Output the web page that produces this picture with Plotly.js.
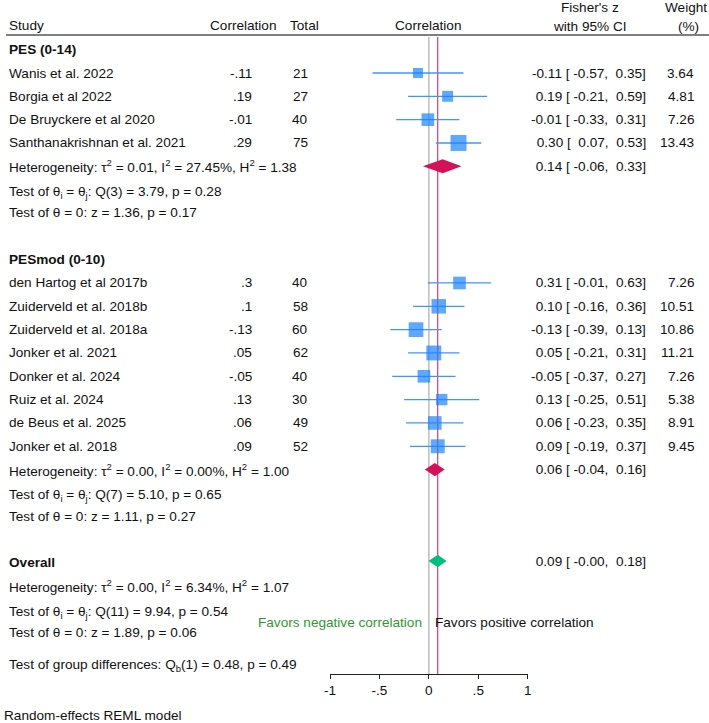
<!DOCTYPE html>
<html>
<head>
<meta charset="utf-8">
<script src="https://cdn.plot.ly/plotly-3.0.1.min.js"></script>
<style>html,body{margin:0;padding:0;background:#fff}</style>
</head>
<body>
<div id="chart" style="width:709px;height:723px"></div>
<script>
// ---- Subgroup 1: PES (0-14) ----
const pesStudies = ["Wanis et al. 2022", "Borgia et al 2022", "De Bruyckere et al 2020", "Santhanakrishnan et al. 2021"];
const pesCorr = ["-.11", ".19", "-.01", ".29"];
const pesTotal = [21, 27, 40, 75];
const pesZ = [-0.11, 0.19, -0.01, 0.30];
const pesLo = [-0.57, -0.21, -0.33, 0.07];
const pesHi = [0.35, 0.59, 0.31, 0.53];
const pesWeight = [3.64, 4.81, 7.26, 13.43];
const pesPooled = [0.14, -0.06, 0.33];          // estimate, lower, upper
const pesStats = [
  "Heterogeneity: τ<sup>2</sup> = 0.01, I<sup>2</sup> = 27.45%, H<sup>2</sup> = 1.38",
  "Test of θ<sub>i</sub> = θ<sub>j</sub>: Q(3) = 3.79, p = 0.28",
  "Test of θ = 0: z = 1.36, p = 0.17"
];

// ---- Subgroup 2: PESmod (0-10) ----
const modStudies = ["den Hartog et al 2017b", "Zuiderveld et al. 2018b", "Zuiderveld et al. 2018a", "Jonker et al. 2021",
                    "Donker et al. 2024", "Ruiz et al. 2024", "de Beus et al. 2025", "Jonker et al. 2018"];
const modCorr = [".3", ".1", "-.13", ".05", "-.05", ".13", ".06", ".09"];
const modTotal = [40, 58, 60, 62, 40, 30, 49, 52];
const modZ = [0.31, 0.10, -0.13, 0.05, -0.05, 0.13, 0.06, 0.09];
const modLo = [-0.01, -0.16, -0.39, -0.21, -0.37, -0.25, -0.23, -0.19];
const modHi = [0.63, 0.36, 0.13, 0.31, 0.27, 0.51, 0.35, 0.37];
const modWeight = [7.26, 10.51, 10.86, 11.21, 7.26, 5.38, 8.91, 9.45];
const modPooled = [0.06, -0.04, 0.16];
const modStats = [
  "Heterogeneity: τ<sup>2</sup> = 0.00, I<sup>2</sup> = 0.00%, H<sup>2</sup> = 1.00",
  "Test of θ<sub>i</sub> = θ<sub>j</sub>: Q(7) = 5.10, p = 0.65",
  "Test of θ = 0: z = 1.11, p = 0.27"
];

// ---- Overall ----
const overallPooled = [0.09, -0.003, 0.18];
const overallStats = [
  "Heterogeneity: τ<sup>2</sup> = 0.00, I<sup>2</sup> = 6.34%, H<sup>2</sup> = 1.07",
  "Test of θ<sub>i</sub> = θ<sub>j</sub>: Q(11) = 9.94, p = 0.54",
  "Test of θ = 0: z = 1.89, p = 0.06"
];
const groupTest = "Test of group differences: Q<sub>b</sub>(1) = 0.48, p = 0.49";

const tickVals = [-1, -0.5, 0, 0.5, 1];
const tickText = ["-1", "-.5", "0", ".5", "1"];

// ---- layout helpers ----
const W = 709, H = 723;
const FONT = "Liberation Sans, Arial, Helvetica, sans-serif";
const FS = 13.6;
const INK = "#111111";
const BLUE = "#1a85ff", CRIMSON = "#d41159", GREEN = "#00bf7f";
const px = v => v / W;
const py = v => 1 - v / H;
const ROW0 = 49.67, ROWH = 23.33;             // pixel position of row 0 and row height
const rowOfPixel = p => (p - ROW0) / ROWH;
const SUB_SHIFT = 0.13;                        // lines with subscripts sit a little lower

const fmt = v => { let s = v.toFixed(2); if (s === "0.00" && v < 0) s = "-0.00"; return s; };
const ciText = (e, l, u) => (fmt(e).padStart(5) + " [" + fmt(l).padStart(6) + "," + fmt(u).padStart(6) + "]").replace(/ /g, "\u00a0");

// row numbers of each block
const pesHeadRow = 0;
const pesRows = pesStudies.map((_, i) => 1 + i);
const pesSumRow = 5;
const modHeadRow = 9;
const modRows = modStudies.map((_, i) => 10 + i);
const modSumRow = 18;
const allHeadRow = 22;
const allSumRow = 22;

const ann = [];
function txt(text, x, y, xanchor, opts) {
  ann.push(Object.assign({
    text, x: px(x), xref: "paper", y, yref: "y", xanchor, yanchor: "middle",
    showarrow: false, borderpad: 0, font: { family: FONT, size: FS, color: INK }
  }, opts || {}));
}
function txtP(text, x, yPix, xanchor, opts) {
  txt(text, x, py(yPix), xanchor, Object.assign({ yref: "paper" }, opts || {}));
}

// column headers
txtP("Study", 8, 26, "left");
txtP("Correlation", 243.5, 26, "center");
txtP("Total", 304, 26, "center");
txtP("Correlation", 428.8, 26, "center");
txtP("Fisher's z", 590, 8, "center");
txtP("with 95% CI", 590, 27, "center");
txtP("Weight", 685.5, 8, "center");
txtP("(%)", 688, 27, "center");

function studyBlock(names, corr, tot, z, lo, hi, w, rows) {
  names.forEach((n, i) => {
    txt(n, 8, rows[i], "left");
    txt(corr[i], 253, rows[i], "right");
    txt(String(tot[i]), 309, rows[i], "right");
    txt(ciText(z[i], lo[i], hi[i]), 647, rows[i], "right");
    txt(w[i].toFixed(2), 695, rows[i], "right");
  });
}
function statBlock(stats, firstRow) {
  stats.forEach((s, i) => txt(s, 8, firstRow + i + (s.includes("<sub>") ? SUB_SHIFT : 0), "left"));
}

txt("<b>PES (0-14)</b>", 8, pesHeadRow, "left");
studyBlock(pesStudies, pesCorr, pesTotal, pesZ, pesLo, pesHi, pesWeight, pesRows);
statBlock(pesStats, pesSumRow);
txt(ciText(...pesPooled), 647, pesSumRow, "right");

txt("<b>PESmod (0-10)</b>", 8, modHeadRow, "left");
studyBlock(modStudies, modCorr, modTotal, modZ, modLo, modHi, modWeight, modRows);
statBlock(modStats, modSumRow);
txt(ciText(...modPooled), 647, modSumRow, "right");

txt("<b>Overall</b>", 8, allHeadRow, "left");
statBlock(overallStats, allHeadRow + 1);
txt(ciText(...overallPooled), 647, allSumRow - 0.08, "right");
txtP(groupTest, 8, 665, "left");

txtP("Favors negative correlation", 423, 622, "right", { font: { family: FONT, size: FS, color: "#2e9a2e" } });
txtP("Favors positive correlation", 434, 622, "left");
txtP("Random-effects REML model", 3, 715, "left");

// ---- marks ----
const studyZ = pesZ.concat(modZ);
const studyLo = pesLo.concat(modLo);
const studyHi = pesHi.concat(modHi);
const studyW = pesWeight.concat(modWeight);
const studyRows = pesRows.concat(modRows);

const studies = {
  type: "scatter", mode: "markers", x: studyZ, y: studyRows,
  marker: { symbol: "square", color: BLUE, size: studyW.map(w => 3.5 + 3.4 * Math.sqrt(w)), line: { width: 0 } },
  error_x: {
    type: "data", symmetric: false,
    array: studyHi.map((h, i) => h - studyZ[i]),
    arrayminus: studyLo.map((l, i) => studyZ[i] - l),
    width: 0, thickness: 1.3, color: "#3f95ff"
  },
  hoverinfo: "skip", showlegend: false
};

function diamond(p, row, color, half) {
  return {
    type: "scatter", mode: "lines", fill: "toself", fillcolor: color,
    x: [p[1], p[0], p[2], p[0], p[1]],
    y: [row, row - half, row, row + half, row],
    line: { width: 0, color }, hoverinfo: "skip", showlegend: false
  };
}

const data = [
  studies,
  diamond(pesPooled, pesSumRow, CRIMSON, 0.30),
  diamond(modPooled, modSumRow, CRIMSON, 0.28),
  diamond(overallPooled, allSumRow - 0.08, GREEN, 0.27)
];

const layout = {
  width: W, height: H,
  margin: { l: 0, r: 0, t: 0, b: 0 },
  paper_bgcolor: "#ffffff", plot_bgcolor: "rgba(0,0,0,0)",
  showlegend: false,
  xaxis: {
    domain: [px(330), px(527.7)], range: [-1, 1],
    anchor: "free", position: py(674),
    showline: true, linecolor: "#222", linewidth: 1,
    ticks: "outside", ticklen: 4, tickwidth: 1, tickcolor: "#222",
    tickvals: tickVals, ticktext: tickText,
    tickfont: { family: FONT, size: FS, color: INK },
    showgrid: false, zeroline: false, fixedrange: true
  },
  yaxis: {
    domain: [0, 1], range: [rowOfPixel(H), rowOfPixel(0)],
    visible: false, fixedrange: true
  },
  shapes: [
    // header rule
    { type: "line", xref: "paper", yref: "paper", x0: px(6), x1: 1, y0: py(35), y1: py(35),
      line: { color: "#555", width: 1.5 } },
    // no-effect line
    { type: "line", xref: "x", yref: "paper", x0: 0, x1: 0, y0: py(674), y1: py(37),
      line: { color: "#bdbdbd", width: 1.5 }, layer: "below" },
    // overall estimate line
    { type: "line", xref: "x", yref: "paper", x0: overallPooled[0], x1: overallPooled[0], y0: py(674), y1: py(37),
      line: { color: CRIMSON, width: 1 }, layer: "below" }
  ],
  annotations: ann
};

Plotly.newPlot("chart", data, layout, { displayModeBar: false, staticPlot: true });
</script>
</body>
</html>
